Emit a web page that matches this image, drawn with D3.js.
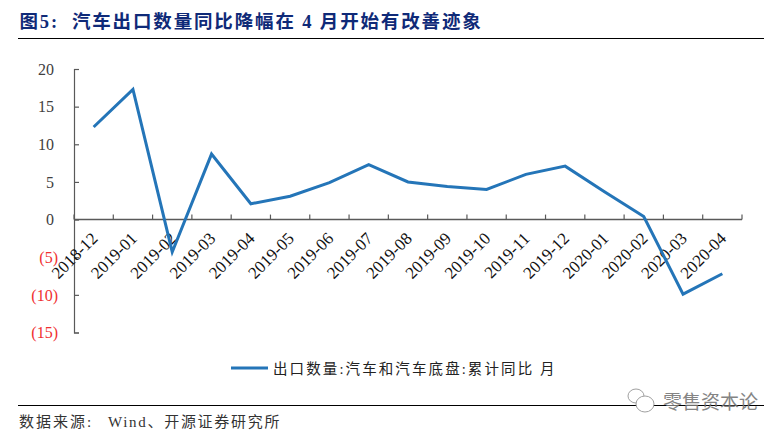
<!DOCTYPE html>
<html><head><meta charset="utf-8">
<script src="https://cdn.jsdelivr.net/npm/d3@7"></script>
<style>html,body{margin:0;padding:0;background:#fff;overflow:hidden}svg{display:block}
text{font-family:"Liberation Serif","Noto Sans CJK SC",serif}</style></head>
<body><svg id="c" width="782" height="435"></svg>
<script>
const categories=["2018-12","2019-01","2019-02","2019-03","2019-04","2019-05","2019-06","2019-07","2019-08","2019-09","2019-10","2019-11","2019-12","2020-01","2020-02","2020-03","2020-04"];
const seriesValues=[12.3,17.3,-4.3,8.7,2.1,3.1,4.9,7.3,5.0,4.4,4.0,6.0,7.1,3.7,0.4,-9.9,-7.2];
const yTicks=[20,15,10,5,0,-5,-10,-15];
const titleText="图5:  汽车出口数量同比降幅在 4 月开始有改善迹象";
const legendText="出口数量:汽车和汽车底盘:累计同比 月";
const sourceText="数据来源:";
const sourceRest="Wind、开源证券研究所";
const watermark="零售资本论";

const svg=d3.select("#c");
const x=d3.scaleBand().domain(categories).range([74,742]);
const y=d3.scaleLinear().domain([-15,20]).range([332.5,69]);
const axisCol="#595959";

svg.append("text").attr("x",19.5).attr("y",28).attr("font-size",18.5).attr("font-weight",700).attr("fill","#0f2a78").attr("letter-spacing",1.85).style("white-space","pre").text(titleText);
svg.append("line").attr("x1",18).attr("x2",764).attr("y1",38.5).attr("y2",38.5).attr("stroke","#000").attr("stroke-width",1);

// y axis
const gy=svg.append("g").attr("transform","translate(74,0)").call(d3.axisLeft(y).tickValues(yTicks).tickSize(-5).tickFormat(d=>d<0?`(${-d})`:d));
gy.selectAll("path,line").attr("stroke",axisCol).attr("stroke-width",1.2);
gy.selectAll("text").attr("font-size",16).attr("font-family","Liberation Serif").attr("fill",d=>d<0?"#f03030":"#404040").attr("x",d=>d<0?-16:-20).attr("dy","0.33em");

// x axis
const edges=categories.map(c=>x(c)).concat([742]);
const gx=svg.append("g");
gx.append("line").attr("x1",74).attr("x2",742).attr("y1",y(0)).attr("y2",y(0)).attr("stroke",axisCol).attr("stroke-width",1.5);
gx.selectAll(".tk").data(edges).join("line").attr("x1",d=>d).attr("x2",d=>d).attr("y1",y(0)).attr("y2",y(0)-5).attr("stroke",axisCol).attr("stroke-width",1.2);

// line
svg.append("path").datum(seriesValues).attr("fill","none").attr("stroke","#2475b8").attr("stroke-width",3).attr("stroke-linejoin","miter")
 .attr("d",d3.line().x((d,i)=>x(categories[i])+x.bandwidth()/2).y(d=>y(d)));

// labels, over the line
gx.selectAll(".lb").data(categories).join("text").attr("font-size",17).attr("fill","#111").attr("text-anchor","end")
 .attr("transform",d=>`translate(${x(d)+x.bandwidth()/2+5},${y(0)+20}) rotate(-45)`).text(d=>d);

// legend
svg.append("line").attr("x1",231).attr("x2",268).attr("y1",368).attr("y2",368).attr("stroke","#2475b8").attr("stroke-width",3);
svg.append("text").attr("x",273).attr("y",374).attr("font-size",14.5).attr("letter-spacing",2.1).attr("fill","#222").text(legendText);

// footer
svg.append("line").attr("x1",18).attr("x2",764).attr("y1",405.5).attr("y2",405.5).attr("stroke","#000").attr("stroke-width",1);
svg.append("text").attr("x",19).attr("y",427).attr("font-size",15).attr("letter-spacing",2).attr("fill","#333").text(sourceText);
svg.append("text").attr("x",108).attr("y",427).attr("font-size",15).attr("letter-spacing",1.7).attr("fill","#333").text(sourceRest);

// watermark
const wm=svg.append("g").attr("fill","#fff").attr("stroke","#a0a0a0").attr("stroke-width",1);
wm.append("ellipse").attr("cx",636).attr("cy",396).attr("rx",8).attr("ry",7);
wm.append("ellipse").attr("cx",645).attr("cy",404).attr("rx",9).attr("ry",8);
svg.append("text").attr("x",663).attr("y",409).attr("font-size",19).attr("fill","#777").attr("opacity",.9).text(watermark);
</script></body></html>
